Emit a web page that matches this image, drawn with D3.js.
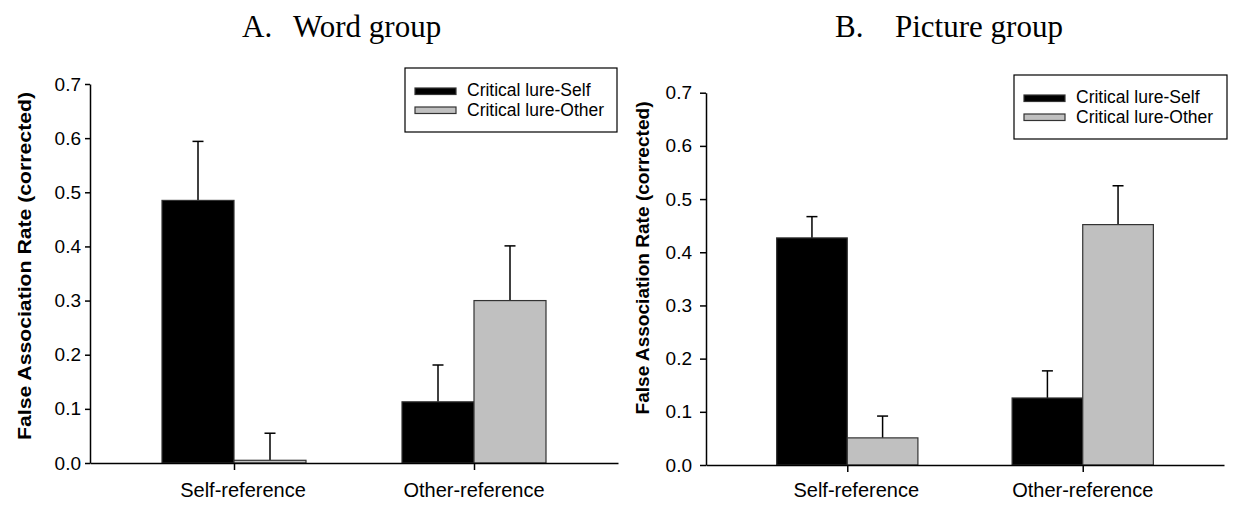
<!DOCTYPE html>
<html>
<head>
<meta charset="utf-8">
<script src="https://cdn.jsdelivr.net/npm/d3@7"></script>
<style>
  body { margin: 0; background: #fff; }
  svg { display: block; }
</style>
</head>
<body>
<svg></svg>
<script>
const d3 = window.d3

let width = 1254
let height = 506

// categories and series
const categories = ['Self-reference', 'Other-reference']
const seriesNames = ['Critical lure-Self', 'Critical lure-Other']
const yTicks = [0, 0.1, 0.2, 0.3, 0.4, 0.5, 0.6, 0.7]

// A. Word group
const wordSelf = [0.485, 0.113]
const wordSelfErr = [0.109, 0.068]
const wordOther = [0.005, 0.300]
const wordOtherErr = [0.050, 0.101]

// B. Picture group
const pictureSelf = [0.427, 0.126]
const pictureSelfErr = [0.040, 0.051]
const pictureOther = [0.051, 0.452]
const pictureOtherErr = [0.041, 0.073]

const fills = ['#000000', '#c0c0c0']

let svg = d3.select('svg')
    .attr('width', width)
    .attr('height', height)

function drawPanel(p) {
  let xScale = d3.scalePoint()
                  .domain(categories)
                  .range([p.left, p.right])
                  .padding(0.6)

  let yScale = d3.scaleLinear()
                  .domain([0, 0.7])
                  .range([p.bottom, p.top])

  let barWidth = xScale.step() * 0.3

  let g = svg.append('g')

  // title
  let title = g.append('text')
      .attr('y', 37)
      .style('font-family', '"Liberation Serif", "Times New Roman", serif')
      .style('font-size', '31px')
  title.append('tspan').attr('x', p.titleX).text(p.letter)
  title.append('tspan').attr('x', p.titleX2).text(p.name)

  // bars, one group per series
  let series = [
    { values: p.self, errs: p.selfErr, side: -1, fill: fills[0] },
    { values: p.other, errs: p.otherErr, side: 0, fill: fills[1] }
  ]

  series.forEach(s => {
    let rows = categories.map((c, i) => ({ cat: c, v: s.values[i], e: s.errs[i] }))

    // error bars (upper only)
    g.selectAll(null)
      .data(rows)
      .enter()
      .append('line')
        .attr('x1', d => xScale(d.cat) + (s.side + 0.5) * barWidth)
        .attr('x2', d => xScale(d.cat) + (s.side + 0.5) * barWidth)
        .attr('y1', d => yScale(d.v))
        .attr('y2', d => yScale(d.v + d.e))
        .attr('stroke', '#000')
        .attr('stroke-width', 1.5)

    g.selectAll(null)
      .data(rows)
      .enter()
      .append('line')
        .attr('x1', d => xScale(d.cat) + (s.side + 0.5) * barWidth - 5.5)
        .attr('x2', d => xScale(d.cat) + (s.side + 0.5) * barWidth + 5.5)
        .attr('y1', d => yScale(d.v + d.e))
        .attr('y2', d => yScale(d.v + d.e))
        .attr('stroke', '#000')
        .attr('stroke-width', 1.5)

    g.selectAll(null)
      .data(rows)
      .enter()
      .append('rect')
        .attr('x', d => xScale(d.cat) + s.side * barWidth)
        .attr('y', d => yScale(d.v))
        .attr('width', barWidth)
        .attr('height', d => yScale(0) - yScale(d.v))
        .attr('fill', s.fill)
        .attr('stroke', '#333')
        .attr('stroke-width', 1.2)
  })

  // axes
  let yAxis = d3.axisLeft(yScale)
                .tickValues(yTicks)
                .tickFormat(d3.format('.1f'))
                .tickSize(p.tickLen)
                .tickSizeOuter(0)
                .tickPadding(p.tickPad)

  let xAxis = d3.axisBottom(xScale)
                .tickSize(7)
                .tickSizeOuter(0)
                .tickFormat('')

  g.append('g')
      .attr('transform', `translate(0, ${p.bottom})`)
      .call(xAxis)
      .call(a => a.selectAll('path, line').attr('stroke-width', 1.5))

  g.append('g')
      .attr('transform', `translate(${p.left}, 0)`)
      .call(yAxis)
      .call(a => a.selectAll('path, line').attr('stroke-width', 1.5))
      .call(a => a.selectAll('text')
        .style('font-family', '"Liberation Sans", Arial, sans-serif')
        .style('font-size', '19px')
        .attr('fill', '#000'))

  // category labels
  g.selectAll(null)
    .data(categories)
    .enter()
    .append('text')
      .attr('x', (d, i) => xScale(d) + p.labelShift[i])
      .attr('y', 497)
      .style('text-anchor', 'middle')
      .style('font-family', '"Liberation Sans", Arial, sans-serif')
      .style('font-size', '20px')
      .text(d => d)

  // y-axis label
  g.append('text')
      .attr('transform', `translate(${p.yLabelX}, ${p.yLabelY}) rotate(-90)`)
      .style('text-anchor', 'middle')
      .style('font-family', '"Liberation Sans", Arial, sans-serif')
      .style('font-weight', 'bold')
      .style('font-size', '19px')
      .attr('textLength', p.yLabelLen)
      .attr('lengthAdjust', 'spacingAndGlyphs')
      .text('False Association Rate (corrected)')

  // legend
  let lg = g.append('g')
  lg.append('rect')
      .attr('x', p.legend.x)
      .attr('y', p.legend.y)
      .attr('width', p.legend.w)
      .attr('height', p.legend.h)
      .attr('fill', '#fff')
      .attr('stroke', '#000')
      .attr('stroke-width', 1.2)

  seriesNames.forEach((name, i) => {
    lg.append('rect')
        .attr('x', p.legend.x + 10)
        .attr('y', p.legend.y + 20 + i * 19)
        .attr('width', 41)
        .attr('height', 6.5)
        .attr('fill', fills[i])
        .attr('stroke', '#333')
        .attr('stroke-width', 1.2)
    lg.append('text')
        .attr('x', p.legend.x + 62)
        .attr('y', p.legend.y + 28 + i * 20)
        .style('font-family', '"Liberation Sans", Arial, sans-serif')
        .style('font-size', '17.5px')
        .text(name)
  })
}

drawPanel({
  letter: 'A.', name: 'Word group', titleX: 242, titleX2: 293,
  left: 90, right: 618, top: 84, bottom: 463,
  tickLen: 5, tickPad: 4,
  self: wordSelf, selfErr: wordSelfErr, other: wordOther, otherErr: wordOtherErr,
  labelShift: [9, 0],
  yLabelX: 31, yLabelY: 266, yLabelLen: 348,
  legend: { x: 405, y: 68, w: 212, h: 64 }
})

drawPanel({
  letter: 'B.', name: 'Picture group', titleX: 835, titleX2: 895,
  left: 706, right: 1224, top: 92.7, bottom: 465,
  tickLen: 6, tickPad: 8,
  self: pictureSelf, selfErr: pictureSelfErr, other: pictureOther, otherErr: pictureOtherErr,
  labelShift: [9, 0],
  yLabelX: 649, yLabelY: 258, yLabelLen: 313,
  legend: { x: 1014, y: 75, w: 213, h: 64 }
})
</script>
</body>
</html>
